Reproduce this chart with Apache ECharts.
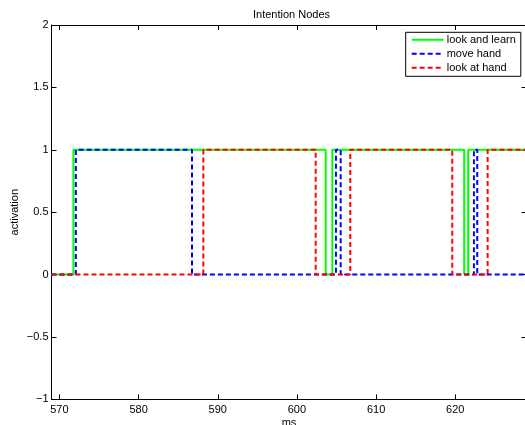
<!DOCTYPE html>
<html>
<head>
<meta charset="utf-8">
<script src="https://cdn.jsdelivr.net/npm/echarts@6/dist/echarts.min.js"></script>
<style>html,body{margin:0;padding:0;background:#fff}#c{width:525px;height:425px}</style>
</head>
<body>
<div id="c"></div>
<script>
// step data: [ms, activation] — value holds until next point
const lookAndLearn = [[569,0],[571.77,1],[603.63,0],[604.47,1],[621.13,0],[621.64,1],[629,1]];
const moveHand     = [[569,0],[572.07,1],[586.75,0],[604.93,1],[605.53,0],[622.36,1],[622.78,0],[629,0]];
const lookAtHand   = [[569,0],[588.18,1],[602.37,0],[606.74,1],[619.62,0],[624.09,1],[629,1]];
const seriesNames  = ['look and learn','move hand','look at hand'];
const xTicks = [570,580,590,600,610,620];

const FONT = 'Liberation Sans';
const chart = echarts.init(document.getElementById('c'), null, {renderer:'canvas'});
const fmtY = v => (v < 0 ? '\u2212' + Math.abs(v) : String(v));
const axisLine = {show:true, onZero:false, lineStyle:{color:'#000', width:1}};
const tick = {show:true, inside:true, length:5, lineStyle:{color:'#000', width:1}};
chart.setOption({
  animation:false,
  title:{text:'Intention Nodes', left:286.5, textAlign:'center', top:4,
    textStyle:{fontFamily:FONT, fontSize:11, fontWeight:'normal', color:'#000'}},
  grid:{left:51.5, top:25, width:475, height:374.4, containLabel:false, outerBoundsMode:'none'},
  legend:{
    orient:'vertical', left:405.7, top:32.3,
    data:seriesNames,
    itemWidth:32, itemHeight:12, itemGap:3,
    padding:[2,5,3,5],
    backgroundColor:'#fff', borderColor:'#000', borderWidth:1, borderRadius:0,
    itemStyle:{opacity:0},
    textStyle:{fontFamily:FONT, fontSize:11, color:'#000', padding:[0,0,0,-2]},
  },
  xAxis:[
    {type:'value', min:569, max:629, position:'bottom',
      name:'ms', nameLocation:'middle', nameGap:18, nameMoveOverlap:false,
      nameTextStyle:{fontFamily:FONT, fontSize:11, color:'#000'},
      axisLine:axisLine, splitLine:{show:false},
      axisTick:Object.assign({customValues:xTicks}, tick),
      axisLabel:{fontFamily:FONT, fontSize:11, color:'#000', margin:5, customValues:xTicks}},
    {type:'value', min:569, max:629, position:'top',
      axisLine:axisLine, splitLine:{show:false},
      axisTick:Object.assign({customValues:xTicks}, tick),
      axisLabel:{show:false}}
  ],
  yAxis:[
    {type:'value', min:-1, max:2, interval:0.5, position:'left',
      name:'activation', nameLocation:'middle', nameGap:31, nameRotate:90, nameMoveOverlap:false,
      nameTextStyle:{fontFamily:FONT, fontSize:11, color:'#000'},
      axisLine:axisLine, splitLine:{show:false}, axisTick:tick,
      axisLabel:{fontFamily:FONT, fontSize:11, color:'#000', margin:3, formatter:fmtY}},
    {type:'value', min:-1, max:2, interval:0.5, position:'right',
      axisLine:axisLine, splitLine:{show:false}, axisTick:tick,
      axisLabel:{show:false}}
  ],
  series:[
    {name:seriesNames[0], type:'line', step:'end', data:lookAndLearn, showSymbol:false, symbol:'none',
      lineStyle:{color:'#00ff00', width:2, type:'solid'}, itemStyle:{color:'#00ff00'}},
    {name:seriesNames[1], type:'line', step:'end', data:moveHand, showSymbol:false, symbol:'none',
      lineStyle:{color:'#0000ff', width:2, type:[5,3]}, itemStyle:{color:'#0000ff'}},
    {name:seriesNames[2], type:'line', step:'end', data:lookAtHand, showSymbol:false, symbol:'none',
      lineStyle:{color:'#ff0000', width:2, type:[5,3]}, itemStyle:{color:'#ff0000'}},
  ]
});
</script>
</body>
</html>
